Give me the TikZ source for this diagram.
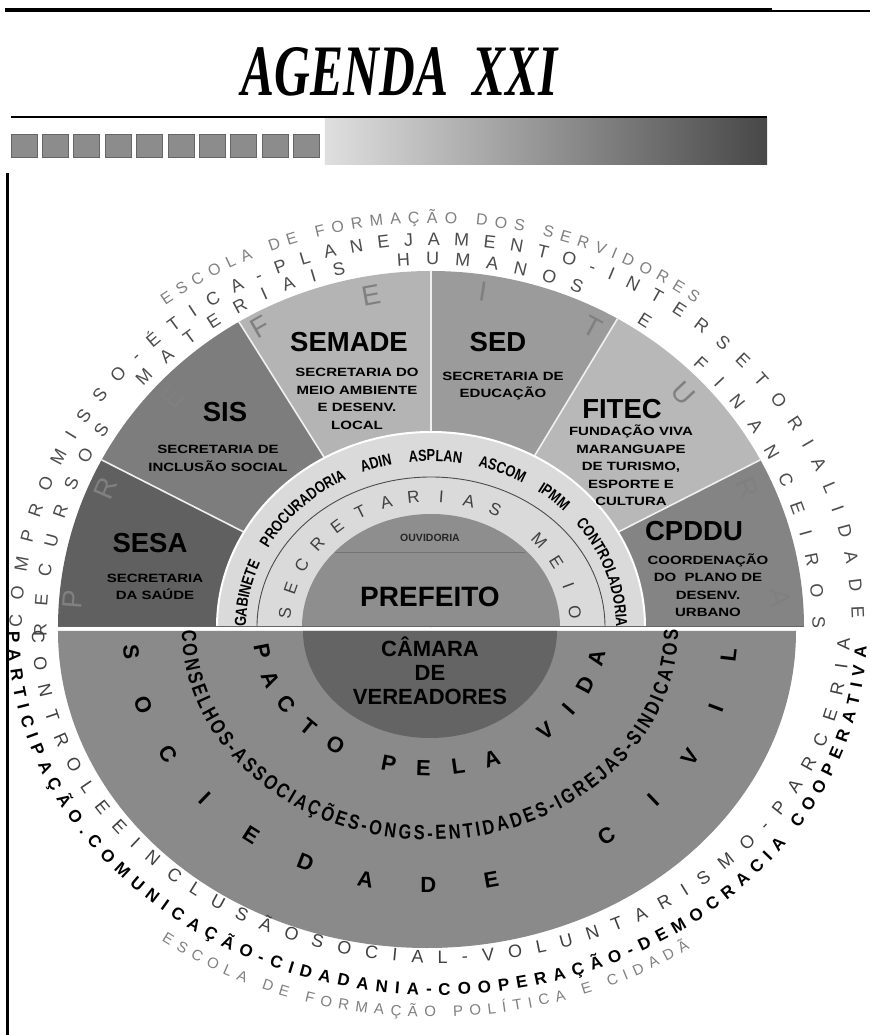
\documentclass[tikz,border=0pt]{standalone}
\usepackage{fontspec}
\setmainfont{Liberation Sans}
\newfontfamily\titlefont{Liberation Serif}
\newfontfamily\narrowfont[FakeStretch=0.8]{Liberation Sans}
\newfontfamily\widefont[FakeStretch=1.25]{Liberation Sans}
\usetikzlibrary{decorations.text}
\definecolor{csesa}{RGB}{96,96,96}
\definecolor{csis}{RGB}{125,125,125}
\definecolor{csemade}{RGB}{180,180,180}
\definecolor{csed}{RGB}{155,155,155}
\definecolor{cfitec}{RGB}{184,184,184}
\definecolor{ccpddu}{RGB}{132,132,132}
\definecolor{cring}{RGB}{218,218,218}
\definecolor{cpref}{RGB}{142,142,142}
\definecolor{clower}{RGB}{138,138,138}
\definecolor{ccamara}{RGB}{100,100,100}
\newcommand\ringAfont{\fontsize{18}{18}\selectfont\color{black!70}}
\newcommand\ringCfont{\fontsize{16}{16}\selectfont\color{black!50}}
\newcommand\ringDfont{\fontsize{15}{15}\selectfont\color{black!50}}
\newcommand\ringLfont{\fontsize{18}{18}\selectfont\color{black!75}}
\newcommand\ringBoldfont{\bfseries\fontsize{17}{17}\selectfont}
\newcommand\gabfont{\narrowfont\bfseries\fontsize{16}{16}\selectfont}
\newcommand\consfont{\narrowfont\bfseries\fontsize{20.5}{20.5}\selectfont}
\begin{document}
\begin{tikzpicture}[x=1pt,y=1pt,
  secttitle/.style={font=\bfseries\fontsize{27.5}{30}\selectfont, inner sep=0pt},
  sectsub/.style={font=\widefont\bfseries\fontsize{12}{17.5}\selectfont, align=center, inner sep=0pt},
  bigletter/.style={font=\fontsize{28}{28}\selectfont, text=black!50, inner sep=0pt},
  midletter/.style={font=\fontsize{17}{17}\selectfont, text=black!75, inner sep=0pt},
  boldletter/.style={font=\bfseries\fontsize{22}{22}\selectfont, inner sep=0pt}]
\useasboundingbox (-432,-407) rectangle (438,628);
\fill[white] (-432,-407) rectangle (438,628);
% header
\draw[line width=3.5] (-427,618) -- (340,618);
\draw[line width=1.5] (340,617) -- (438,617);
\node[anchor=base, inner sep=0pt] (title) at (-32,532) {\resizebox{316pt}{48pt}{\titlefont\bfseries\itshape AGENDA\ \ XXI}};
\shade[left color=gray!25, right color=black!72] (-107,463) rectangle (335,509);
\draw[line width=2.5] (-421,511) -- (335,511);
\foreach \idx in {0,...,9}
  \filldraw[fill=black!45, draw=black!60, line width=0.8] ({-421+31.4*\idx},471) rectangle ++(26,23);
% upper half
\begin{scope}[shift={(-1,1)}]
\fill[csesa] (0,0) -- (180:373pt and 356pt) arc[start angle=180,end angle=152,x radius=373pt,y radius=356pt] -- cycle;
\fill[csis] (0,0) -- (152:373pt and 356pt) arc[start angle=152,end angle=121,x radius=373pt,y radius=356pt] -- cycle;
\fill[csemade] (0,0) -- (121:373pt and 356pt) arc[start angle=121,end angle=90,x radius=373pt,y radius=356pt] -- cycle;
\fill[csed] (0,0) -- (90:373pt and 356pt) arc[start angle=90,end angle=60,x radius=373pt,y radius=356pt] -- cycle;
\fill[cfitec] (0,0) -- (60:373pt and 356pt) arc[start angle=60,end angle=28,x radius=373pt,y radius=356pt] -- cycle;
\fill[ccpddu] (0,0) -- (28:373pt and 356pt) arc[start angle=28,end angle=0,x radius=373pt,y radius=356pt] -- cycle;
\foreach \bnd in {152,121,90,60,28}
  \draw[gray!12, line width=1.6] (0,0) -- (\bnd:373pt and 356pt);
\fill[cring] (-214,0) arc[start angle=180,end angle=0,x radius=214pt,y radius=195pt] -- cycle;
\draw[white, line width=2] (-214,0) arc[start angle=180,end angle=0,x radius=214pt,y radius=195pt];
\draw[black!70, line width=0.9] (-174,0) arc[start angle=180,end angle=0,x radius=174pt,y radius=150pt];
\fill[cpref] (-129,0) arc[start angle=180,end angle=0,x radius=129pt,y radius=113pt] -- cycle;
\draw[black!55, line width=0.9] (-96,75) -- (94,75);
\draw[black!60, line width=1.4] (-373,0.5) -- (373,0.5);
\end{scope}
% lower half
\fill[clower] (-374,-3) arc[start angle=180,end angle=360,x radius=369pt,y radius=317pt] -- cycle;
\fill[ccamara] (-129,-3) arc[start angle=180,end angle=360,x radius=127pt,y radius=107pt] -- cycle;
% PREFEITURA letters
\foreach \chr/\px/\py/\rot [count=\idx] in {P/-359/29/85.4, R/-326/140/66.8, E/-260/231/48.4, F/-172/301/29.7, E/-61/333/10.4, I/51/336/-8.6, T/161/301/-28.1, U/251/235/-46.9, R/315/140/-66, A/348/30/-85.1}
  \node[bigletter, rotate=\rot] (pf\idx) at (\px,\py) {\chr};
% sector labels
\node[secttitle] (sesa) at (-282,85) {SESA};
\node[sectsub] (sesat) at (-277,41) {SECRETARIA\\DA SAÚDE};
\node[secttitle] (sis) at (-207,216) {SIS};
\node[sectsub] (sist) at (-214,169.5) {SECRETARIA DE\\INCLUSÃO SOCIAL};
\node[secttitle] (semade) at (-83,286) {SEMADE};
\node[sectsub] (semadet) at (-75,229) {SECRETARIA DO\\MEIO AMBIENTE\\E DESENV.\\LOCAL};
\node[secttitle] (sed) at (66,286) {SED};
\node[sectsub] (sedt) at (71,242) {SECRETARIA DE\\EDUCAÇÃO};
\node[secttitle] (fitec) at (190,219) {FITEC};
\node[sectsub] (fitect) at (199,162.5) {FUNDAÇÃO VIVA\\MARANGUAPE\\DE TURISMO,\\ESPORTE E\\CULTURA};
\node[secttitle] (cpddu) at (262,97) {CPDDU};
\node[sectsub] (cpddut) at (276,43) {COORDENAÇÃO\\DO\ \ PLANO DE\\DESENV.\\URBANO};
% inner ring texts
\path[shift={(-1,1)}, decorate, decoration={text along path, text align={fit to path stretching spaces}, text={|\gabfont|GABINETE PROCURADORIA ADIN ASPLAN ASCOM IPMM CONTROLADORIA}}] (180:185pt and 166pt) arc[start angle=180,end angle=0,x radius=185pt,y radius=166pt];
\begin{scope}[shift={(-2,0)}]
\foreach \chr/\angl [count=\idx] in {S/173.5,E/162.5,C/151.5,R/140.5,E/129.5,T/118.5,A/107.5,R/96.5,I/85.5,A/74.5,S/63.5,M/41.5,E/30,I/18.5,O/7}
  \node[midletter, rotate={atan2(-132*cos(\angl),146*sin(\angl))}] (sm\idx) at (\angl:146pt and 132pt) {\chr};
\end{scope}
\node[font=\bfseries\fontsize{10.5}{10.5}\selectfont, text=black!85, inner sep=0pt] (ouv) at (-2,90) {OUVIDORIA};
\node[font=\bfseries\fontsize{28}{28}\selectfont, inner sep=0pt] (pref) at (-2,31) {PREFEITO};
% lower texts
\node[font=\bfseries\fontsize{22}{24}\selectfont, align=center, inner sep=0pt] (camara) at (-2,-43) {CÂMARA\\DE\\VEREADORES};
\begin{scope}[shift={(-2,-2)}]
\foreach \chr/\angl [count=\idx] in {P/189,A/200.8,C/212.6,T/224.4,O/236.2,P/256,E/267.8,L/279.6,A/291.4,V/313,I/324.8,D/336.6,A/348.4}
  \node[boldletter, rotate={atan2(138*cos(\angl),-170*sin(\angl))}] (pv\idx) at (\angl:170pt and 138pt) {\chr};
\foreach \chr/\angl [count=\idx] in {S/185,O/197.1,C/209.2,I/221.3,E/233.4,D/245.5,A/257.6,D/269.7,E/281.8,C/306,I/318.1,V/330.2,I/342.3,L/354.4}
  \node[boldletter, rotate={atan2(255*cos(\angl),-300*sin(\angl))}] (sc\idx) at (\angl:300pt and 255pt) {\chr};
\path[decorate, decoration={text along path, text align={fit to path}, text={|\consfont|CONSELHOS-ASSOCIAÇÕES-ONGS-ENTIDADES-IGREJAS-SINDICATOS}}] (180:248pt and 210pt) arc[start angle=180,end angle=360,x radius=248pt,y radius=210pt];
\end{scope}
% outer upper rings
\path[decorate, decoration={text along path, text align={fit to path}, text={|\ringCfont|ESCOLA DE FORMAÇÃO DOS SERVIDORES}}] (127.3:440pt and 405pt) arc[start angle=127.3,end angle=53.3,x radius=440pt,y radius=405pt];
\path[shift={(5,0)}, decorate, decoration={text along path, text align={fit to path}, text={|\ringAfont|COMPROMISSO-ÉTICA-PLANEJAMENTO-INTERSETORIALIDADE}}] (180:415pt and 383pt) arc[start angle=180,end angle=1.5,x radius=415pt,y radius=383pt];
\begin{scope}[shift={(-2.5,0)}]
\path[decorate, decoration={text along path, text align={fit to path}, text={|\ringAfont|RECURSOS}}] (181.4:383pt and 363pt) arc[start angle=181.4,end angle=146.6,x radius=383pt,y radius=363pt];
\path[decorate, decoration={text along path, text align={fit to path}, text={|\ringAfont|MATERIAIS}}] (138.4:383pt and 363pt) arc[start angle=138.4,end angle=102.6,x radius=383pt,y radius=363pt];
\path[decorate, decoration={text along path, text align={fit to path}, text={|\ringAfont|HUMANOS}}] (94.8:383pt and 363pt) arc[start angle=94.8,end angle=66.8,x radius=383pt,y radius=363pt];
\node[font=\ringAfont, anchor=south, inner sep=0pt, rotate=-32.2] (ringe) at (56.4:383pt and 363pt) {E};
\path[decorate, decoration={text along path, text align={fit to path}, text={|\ringAfont|FINANCEIROS}}] (46.6:383pt and 363pt) arc[start angle=46.6,end angle=0,x radius=383pt,y radius=363pt];
\end{scope}
% outer lower rings
\path[shift={(9,-2)}, decorate, decoration={text along path, text align={fit to path}, text={|\ringLfont|CONTROLEEINCLUSÃOSOCIAL-VOLUNTARISMO-PARCERIA}}] (180:409pt and 333pt) arc[start angle=180,end angle=358.5,x radius=409pt,y radius=333pt];
\path[shift={(5.5,-3)}, decorate, decoration={text along path, text align={fit to path}, text={|\ringBoldfont|PARTICIPAÇÃO.COMUNICAÇÃO-CIDADANIA-COOPERAÇÃO-DEMOCRACIA COOPERATIVA}}] (180:429.5pt and 364pt) arc[start angle=180,end angle=357.5,x radius=429.5pt,y radius=364pt];
\path[decorate, decoration={text along path, text align={fit to path}, text={|\ringDfont|ESCOLA DE FORMAÇÃO POLÍTICA E CIDADÃ}}] (233.5:455pt and 389pt) arc[start angle=233.5,end angle=304.5,x radius=455pt,y radius=389pt];
% left border line
\draw[line width=3] (-424,455) -- (-424,-407);
\end{tikzpicture}
\end{document}
